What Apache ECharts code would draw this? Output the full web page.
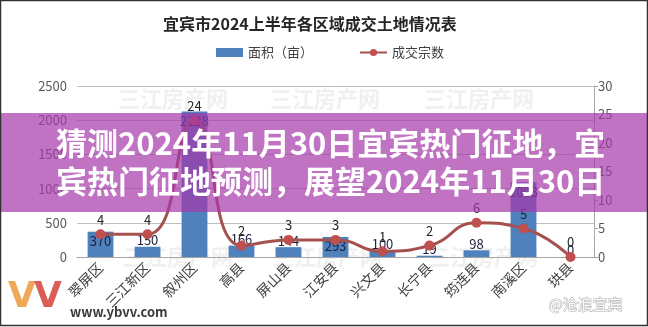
<!DOCTYPE html>
<html>
<head>
<meta charset="utf-8">
<script src="https://cdn.jsdelivr.net/npm/echarts@6/dist/echarts.min.js"></script>
<style>
html,body{margin:0;padding:0;background:#fff;}
#c{width:648px;height:327px;}
</style>
</head>
<body>
<div id="c"></div>
<script>
var categories = ['翠屏区', '三江新区', '叙州区', '高县', '屏山县', '江安县', '兴文县', '长宁县', '筠连县', '南溪区', '珙县'];
var areaValues = [370, 150, 2128, 166, 144, 293, 100, 19, 98, 1093, 0];
var dealCounts = [4, 4, 24, 2, 3, 3, 1, 2, 6, 5, 0];
var leftTicks = [0, 500, 1000, 1500, 2000, 2500];
var rightTicks = [0, 5, 10, 15, 20, 25, 30];
var titleText = '宜宾市2024上半年各区域成交土地情况表';
var bannerLines = ['猜测2024年11月30日宜宾热门征地，宜', '宾热门征地预测，展望2024年11月30日'];
var watermark = '三江房产网';

var FONT = '"Noto Sans CJK SC", "Noto Sans", sans-serif';
var chart = echarts.init(document.getElementById('c'), null, {renderer: 'canvas'});

var wmPos = [[118, 88], [270, 88], [424, 88], [123, 246], [272, 246], [428, 246]];
var graphics = wmPos.map(function (p) {
  return {type: 'text', left: p[0], top: p[1], z: 0, silent: true,
    style: {text: watermark, font: 'bold 22px ' + FONT, fill: 'rgba(200,200,200,0.28)'}};
});
graphics.push({type: 'rect', shape: {x: 0, y: 113, width: 648, height: 99}, z: 100,
  style: {fill: 'rgba(165,55,170,0.70)'}});
graphics.push({type: 'text', left: 56, top: 128, z: 101,
  style: {text: bannerLines[0], font: 'bold 31px ' + FONT, fill: '#ffffff'}});
graphics.push({type: 'text', left: 56, top: 166, z: 101,
  style: {text: bannerLines[1], font: 'bold 31px ' + FONT, fill: '#ffffff'}});
graphics.push({type: 'text', left: 8, top: 280, z: 101,
  style: {text: 'V', font: 'bold 36px "DejaVu Sans", sans-serif', fill: 'rgba(235,160,70,0.9)'}});
graphics.push({type: 'text', left: 34, top: 280, z: 101,
  style: {text: 'V', font: 'bold 36px "DejaVu Sans", sans-serif', fill: 'rgba(215,75,70,0.9)'}});
graphics.push({type: 'text', left: 70, top: 306, z: 101,
  style: {text: 'www.ybvv.com', font: 'bold 13px ' + FONT, fill: '#3a3a3a'}});
graphics.push({type: 'text', left: 548, top: 296, z: 101,
  style: {text: '@沧浪宜宾', font: '15px ' + FONT, fill: 'rgba(255,255,255,0.9)', stroke: 'rgba(120,120,120,0.6)', lineWidth: 1}});
graphics.push({type: 'rect', shape: {x: 0.5, y: 0.5, width: 647, height: 325}, z: 102,
  style: {fill: 'none', stroke: '#333', lineWidth: 1.5}});

chart.setOption({
  animation: false,
  textStyle: {fontFamily: FONT},
  title: {
    text: titleText, left: 158, top: 11,
    textStyle: {fontSize: 16, fontWeight: 'bold', color: '#262626', fontFamily: FONT}
  },
  legend: {
    left: 211, top: 41, itemWidth: 27, itemHeight: 9, itemGap: 46,
    textStyle: {fontSize: 13, color: '#404040', fontFamily: FONT},
    data: [{name: '面积（亩）', icon: 'rect'}, {name: '成交宗数'}]
  },
  grid: {left: 77, right: 54, top: 86, bottom: 70},
  xAxis: {
    type: 'category', data: categories,
    axisLine: {lineStyle: {color: '#a6a6a6'}},
    axisTick: {show: false},
    axisLabel: {rotate: 45, fontSize: 14, color: '#404040', margin: 8, interval: 0}
  },
  yAxis: [{
    type: 'value', min: 0, max: 2500, interval: 500,
    axisLine: {show: false}, axisTick: {show: false},
    axisLabel: {fontSize: 13, color: '#595959', margin: 10,
      formatter: function (v) { return String(v); }},
    splitLine: {lineStyle: {color: '#bfbfbf'}}
  }, {
    type: 'value', min: 0, max: 30, interval: 5, position: 'right',
    axisLine: {show: true, lineStyle: {color: '#a6a6a6'}},
    axisTick: {show: true, length: 4, lineStyle: {color: '#a6a6a6'}},
    axisLabel: {fontSize: 13, color: '#595959', margin: 4,
      formatter: function (v) { return String(v); }},
    splitLine: {show: false}
  }],
  series: [{
    name: '面积（亩）', type: 'bar', barWidth: '55%', yAxisIndex: 0,
    itemStyle: {color: '#4f81bd'},
    data: areaValues.map(function (v) {
      return {value: v, label: {position: v > 250 ? 'insideTop' : 'top', distance: v > 250 ? 3 : 0}};
    }),
    label: {show: true, fontSize: 13, color: '#1f1f3f'}
  }, {
    name: '成交宗数', type: 'line', yAxisIndex: 1, smooth: true,
    symbol: 'circle', symbolSize: 10,
    lineStyle: {color: '#a5514f', width: 3},
    itemStyle: {color: '#c0504d'},
    data: dealCounts,
    label: {show: true, position: 'top', distance: 3, fontSize: 13, color: '#262626'}
  }],
  graphic: graphics
});
</script>
</body>
</html>
